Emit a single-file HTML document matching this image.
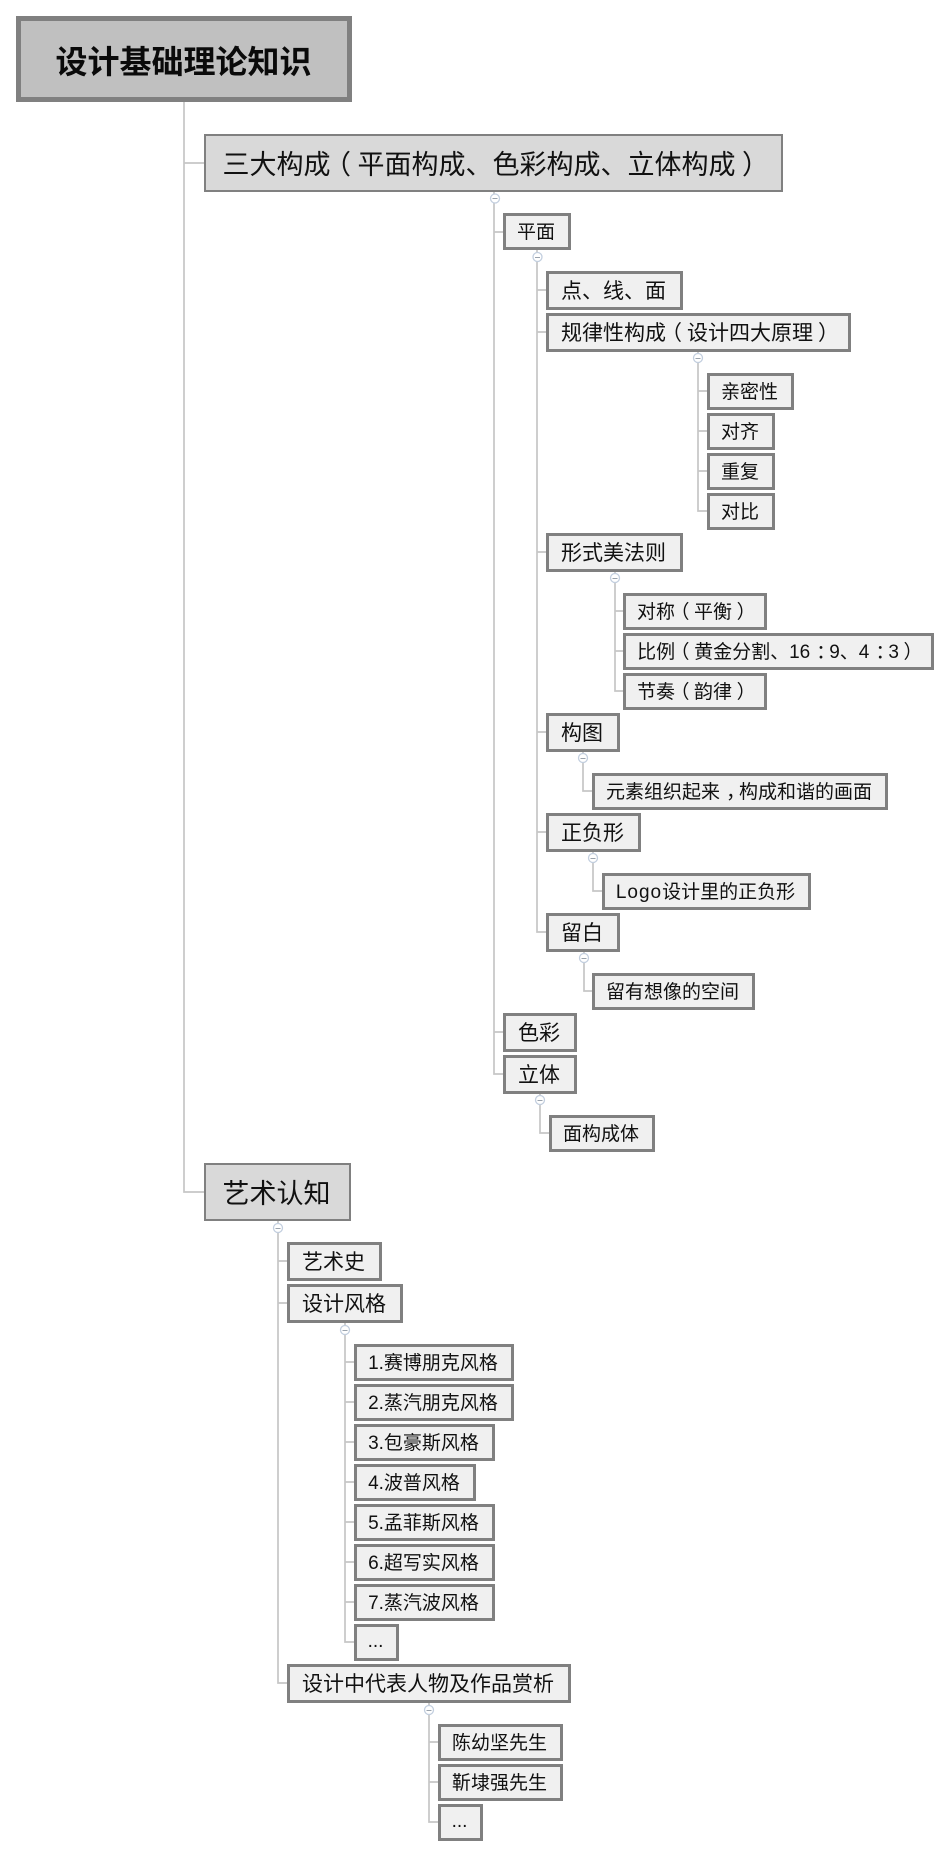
<!DOCTYPE html>
<html><head><meta charset="utf-8"><style>
html,body{margin:0;padding:0;background:#fff}
#p{position:relative;width:950px;height:1857px;overflow:hidden;font-family:"Liberation Sans","Noto Sans CJK SC",sans-serif;color:#111}
#p div{position:absolute;box-sizing:border-box;display:flex;align-items:center;justify-content:center;white-space:nowrap;background:#f0f0f0;border:3px solid #808080;font-size:19px;padding:0 2px 2px 0}
#p div.m{font-size:21px}
#p div.l{font-size:27px;background:#d9d9d9;border-width:2px}
#p div.r{font-size:32px;font-weight:bold;background:#c0c0c0;border-width:5px;color:#0a0a0a;padding:2px 1px 0 0}
i{font-style:normal;position:relative;display:inline-block;width:1em;text-align:center}
i.a{left:-.24em}
i.b{left:.24em}
i.c{left:.32em}
svg{position:absolute;left:0;top:0}
</style></head><body><div id="p">
<svg width="950" height="1857" fill="none" stroke="#c6c6c6" stroke-width="1.7">
<path d="M184 102V1192H204M184 163H204"/>
<path d="M494 192V1074H503M494 232H503M494 1032H503"/>
<path d="M537 250V932H546M537 290H546M537 332H546M537 552H546M537 732H546M537 832H546"/>
<path d="M698 352V511H707M698 391H707M698 431H707M698 471H707"/>
<path d="M615 572V691H623M615 611H623M615 651H623"/>
<path d="M583 752V791H592M593 852V891H602M584 952V991H592M540 1094V1133H549"/>
<path d="M278 1221V1683H287M278 1261H287M278 1303H287"/>
<path d="M345 1323V1642H354M345 1362H354M345 1402H354M345 1442H354M345 1482H354M345 1522H354M345 1562H354M345 1602H354"/>
<path d="M429 1703V1822H438M429 1742H438M429 1782H438"/>
<g fill="#fff" stroke="#c3cfdf" stroke-width="1.3">
<circle cx="495" cy="198.500" r="4.500"/><circle cx="537.500" cy="257" r="4.500"/><circle cx="698" cy="358" r="4.500"/><circle cx="615" cy="578" r="4.500"/><circle cx="583" cy="758" r="4.500"/><circle cx="593" cy="858" r="4.500"/><circle cx="584" cy="958" r="4.500"/><circle cx="540" cy="1100" r="4.500"/><circle cx="278" cy="1228" r="4.500"/><circle cx="345" cy="1330" r="4.500"/><circle cx="429" cy="1710" r="4.500"/>
</g>
<g stroke="#9aa3ad" stroke-width="1">
<path d="M492.500 198.500h5M535 257.500h5M695.500 358.500h5M612.500 578.500h5M580.500 758.500h5M590.500 858.500h5M581.500 958.500h5M537.500 1100.500h5M275.500 1228.500h5M342.500 1330.500h5M426.500 1710.500h5"/>
</g>
</svg>
<div class="r" style="left:16px;top:16px;width:336px;height:86px">设计基础理论知识</div>
<div class="l" style="left:204px;top:134px;width:579px;height:58px"><span>三大构成<i class="a">（</i>平面构成、色彩构成、立体构成<i class="b">）</i></span></div>
<div style="left:503px;top:213px;width:68px;height:37px">平面</div>
<div class="m" style="left:546px;top:271px;width:137px;height:39px">点、线、面</div>
<div class="m" style="left:546px;top:313px;width:305px;height:39px"><span>规律性构成<i class="a">（</i>设计四大原理<i class="b">）</i></span></div>
<div style="left:707px;top:373px;width:87px;height:37px">亲密性</div>
<div style="left:707px;top:413px;width:68px;height:37px">对齐</div>
<div style="left:707px;top:453px;width:68px;height:37px">重复</div>
<div style="left:707px;top:493px;width:68px;height:37px">对比</div>
<div class="m" style="left:546px;top:533px;width:137px;height:39px">形式美法则</div>
<div style="left:623px;top:593px;width:144px;height:37px"><span>对称<i class="a">（</i>平衡<i class="b">）</i></span></div>
<div style="left:623px;top:633px;width:311px;height:37px"><span>比例<i class="a">（</i>黄金分割、16<i class="c">：</i>9、4<i class="c">：</i>3<i class="b">）</i></span></div>
<div style="left:623px;top:673px;width:144px;height:37px"><span>节奏<i class="a">（</i>韵律<i class="b">）</i></span></div>
<div class="m" style="left:546px;top:713px;width:74px;height:39px">构图</div>
<div style="left:592px;top:773px;width:296px;height:37px"><span>元素组织起来<i class="c">，</i>构成和谐的画面</span></div>
<div class="m" style="left:546px;top:813px;width:95px;height:39px">正负形</div>
<div style="left:602px;top:873px;width:209px;height:37px"><span><b style="font-weight:normal;letter-spacing:1px">Logo</b>设计里的正负形</span></div>
<div class="m" style="left:546px;top:913px;width:74px;height:39px">留白</div>
<div style="left:592px;top:973px;width:163px;height:37px">留有想像的空间</div>
<div class="m" style="left:503px;top:1013px;width:74px;height:39px">色彩</div>
<div class="m" style="left:503px;top:1055px;width:74px;height:39px">立体</div>
<div style="left:549px;top:1115px;width:106px;height:37px">面构成体</div>
<div class="l" style="left:204px;top:1163px;width:147px;height:58px">艺术认知</div>
<div class="m" style="left:287px;top:1242px;width:95px;height:39px">艺术史</div>
<div class="m" style="left:287px;top:1284px;width:116px;height:39px">设计风格</div>
<div style="left:354px;top:1344px;width:160px;height:37px">1.赛博朋克风格</div>
<div style="left:354px;top:1384px;width:160px;height:37px">2.蒸汽朋克风格</div>
<div style="left:354px;top:1424px;width:141px;height:37px">3.包豪斯风格</div>
<div style="left:354px;top:1464px;width:122px;height:37px">4.波普风格</div>
<div style="left:354px;top:1504px;width:141px;height:37px">5.孟菲斯风格</div>
<div style="left:354px;top:1544px;width:141px;height:37px">6.超写实风格</div>
<div style="left:354px;top:1584px;width:141px;height:37px">7.蒸汽波风格</div>
<div style="left:354px;top:1624px;width:45px;height:37px">...</div>
<div class="m" style="left:287px;top:1664px;width:284px;height:39px">设计中代表人物及作品赏析</div>
<div style="left:438px;top:1724px;width:125px;height:37px">陈幼坚先生</div>
<div style="left:438px;top:1764px;width:125px;height:37px">靳埭强先生</div>
<div style="left:438px;top:1804px;width:45px;height:37px">...</div>
</div></body></html>
